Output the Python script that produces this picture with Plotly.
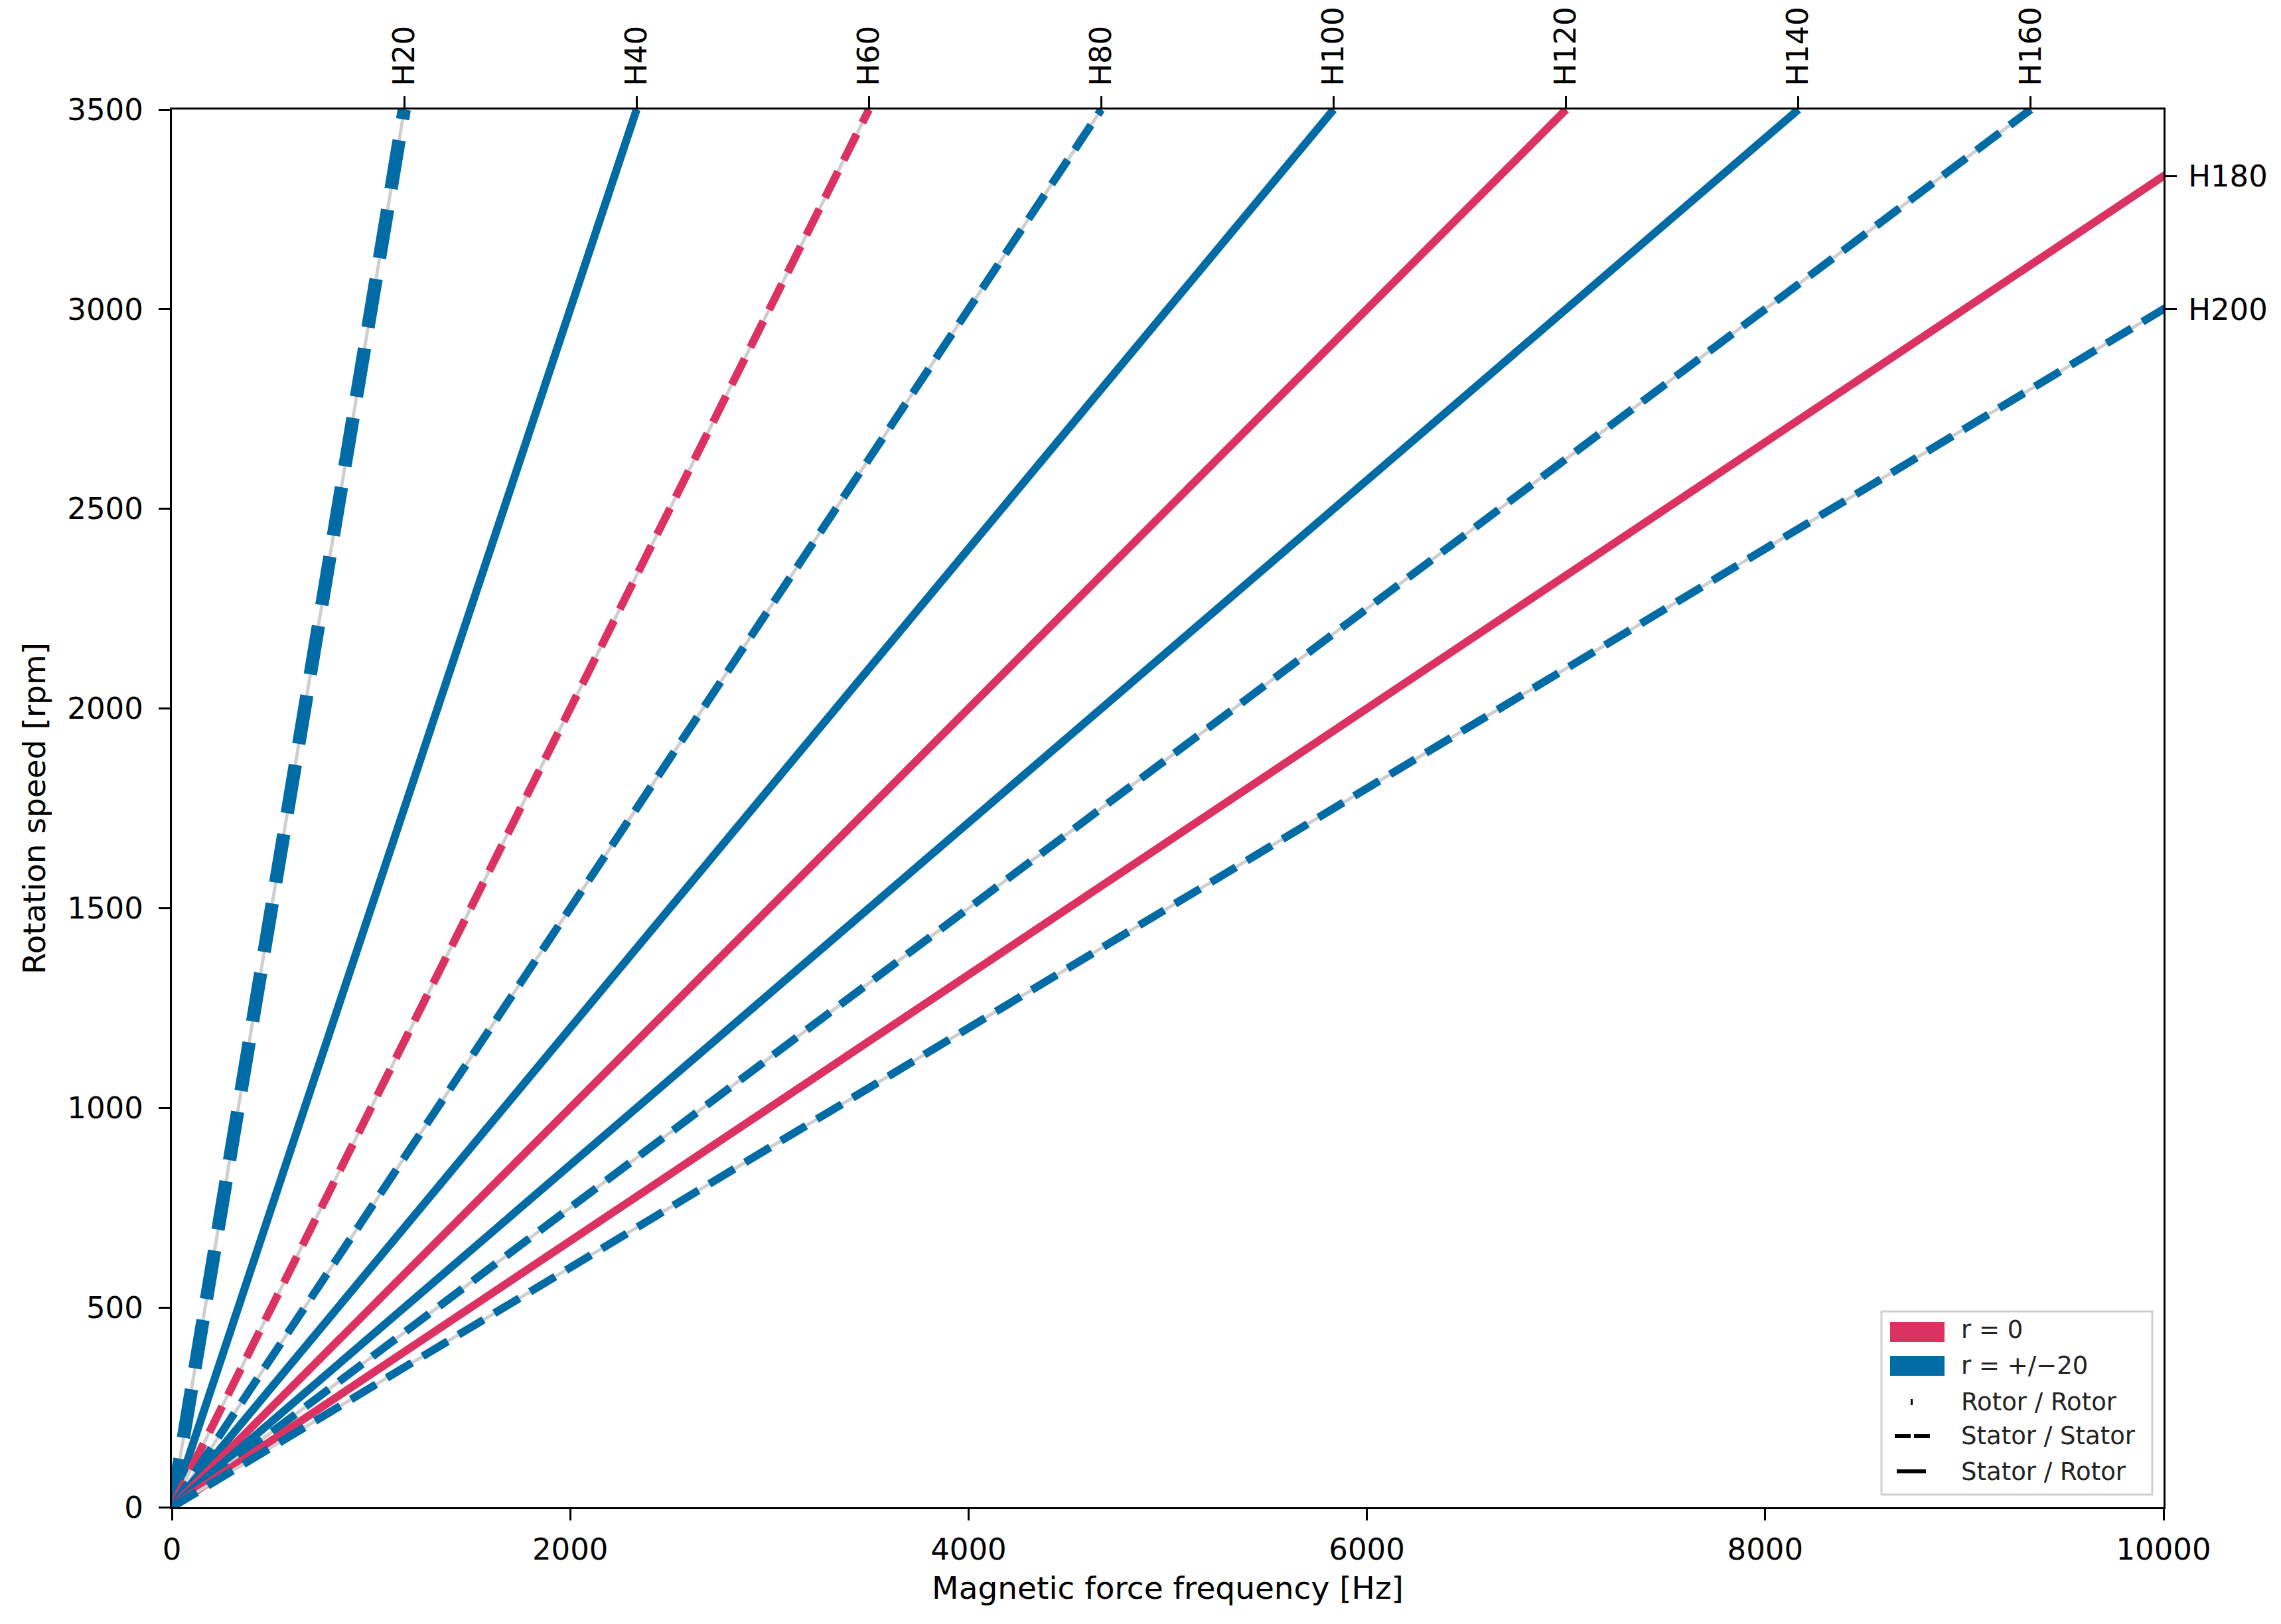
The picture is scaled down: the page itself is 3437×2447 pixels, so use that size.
import plotly.graph_objects as go

# ---------------- data ----------------
harmonics = [20, 40, 60, 80, 100, 120, 140, 160, 180, 200]
families = ["r20", "r20", "r0", "r20", "r20", "r0", "r20", "r20", "r0", "r20"]
sources = ["Stator / Stator", "Stator / Rotor", "Stator / Stator", "Stator / Stator",
           "Stator / Rotor", "Stator / Rotor", "Stator / Rotor", "Stator / Stator",
           "Stator / Rotor", "Stator / Stator"]
speed_range = [0, 3500]          # rpm
freq_range = [0, 10000]          # Hz
x_ticks = [0, 2000, 4000, 6000, 8000, 10000]
y_ticks = [0, 500, 1000, 1500, 2000, 2500, 3000, 3500]
legend_families = ["r = 0", "r = +/\u221220"]
legend_sources = ["Rotor / Rotor", "Stator / Stator", "Stator / Rotor"]

# ---------------- styles ----------------
W, H = 3437, 2447
OFF = 8  # page body margin
L, R, T, B = 259, 3260, 165, 2271
FONT = "DejaVu Sans"
TICK_FS = 45
TITLE_FS = 47
LEG_FS = 37
COLORS = {"r0": "#DC3262", "r20": "#006BA4"}
GRAY = "#CFCFCF"
BASE_W = 12
WIDE = {20: 20}


def dash_for(src, w):
    if src == "Stator / Stator":
        return "%dpx,%dpx" % (round(3.7 * w), round(1.6 * w))
    return "solid"


fig = go.Figure()

for n, fam, src in zip(harmonics, families, sources):
    xs = [n * s / 60 for s in speed_range]
    w = WIDE.get(n, BASE_W)
    fig.add_trace(go.Scatter(x=xs, y=speed_range, mode="lines",
                             line=dict(color=GRAY, width=5),
                             showlegend=False, hoverinfo="skip"))
    fig.add_trace(go.Scatter(x=xs, y=speed_range, mode="lines",
                             line=dict(color=COLORS[fam], width=w, dash=dash_for(src, w)),
                             showlegend=False, name="H%d" % n))

# invisible trace to activate secondary axes
fig.add_trace(go.Scatter(x=freq_range, y=speed_range, xaxis="x2", yaxis="y2",
                         mode="lines", line=dict(width=0), opacity=0,
                         showlegend=False, hoverinfo="skip"))

top_vals = [n * speed_range[1] / 60 for n in harmonics if n * speed_range[1] / 60 <= freq_range[1]]
top_text = ["H%d" % n for n in harmonics if n * speed_range[1] / 60 <= freq_range[1]]
right_vals = [freq_range[1] * 60 / n for n in harmonics if n * speed_range[1] / 60 > freq_range[1]]
right_text = ["H%d" % n for n in harmonics if n * speed_range[1] / 60 > freq_range[1]]

axis_common = dict(showgrid=False, zeroline=False, showline=True, linecolor="black",
                   linewidth=3.3, ticks="outside", ticklen=17, tickwidth=3.3,
                   tickcolor="black", tickfont=dict(family=FONT, size=TICK_FS, color="black"),
                   automargin=False)

fig.update_layout(
    width=W, height=H,
    margin=dict(l=L - OFF, r=W - (R - OFF), t=T - OFF, b=H - (B - OFF), pad=0),
    paper_bgcolor="white", plot_bgcolor="white",
    font=dict(family=FONT, size=TICK_FS, color="black"),
    showlegend=False,
    xaxis=dict(range=freq_range, tickvals=x_ticks, ticktext=[str(v) for v in x_ticks],
               title=dict(text="Magnetic force frequency [Hz]", standoff=16,
                          font=dict(family=FONT, size=TITLE_FS, color="black")),
               ticklabelstandoff=5, **axis_common),
    yaxis=dict(range=speed_range, tickvals=y_ticks, ticktext=[str(v) for v in y_ticks],
               title=dict(text="Rotation speed [rpm]", standoff=18,
                          font=dict(family=FONT, size=TITLE_FS, color="black")),
               ticklabelstandoff=14, **axis_common),
    xaxis2=dict(range=freq_range, overlaying="x", side="top", tickvals=top_vals,
                ticktext=top_text, tickangle=-90, ticklabelstandoff=6, **axis_common),
    yaxis2=dict(range=speed_range, overlaying="y", side="right", tickvals=right_vals,
                ticktext=right_text, ticklabelstandoff=8, **axis_common),
)


# ---------------- legend (drawn manually) ----------------
def px(xp):
    return (xp - L) / (R - L)


def py(yp):
    return (B - yp) / (B - T)


shapes = []
shapes.append(dict(type="rect", xref="paper", yref="paper",
                   x0=px(2835), x1=px(3243), y0=py(1976), y1=py(2252),
                   line=dict(color="#D0D0D0", width=3), fillcolor="rgba(255,255,255,0.85)",
                   layer="above"))
patch_y = [2007, 2058]
for fam, yc in zip(["r0", "r20"], patch_y):
    shapes.append(dict(type="rect", xref="paper", yref="paper",
                       x0=px(2848), x1=px(2930), y0=py(yc - 15), y1=py(yc + 15),
                       line=dict(width=0), fillcolor=COLORS[fam], layer="above"))
# Rotor / Rotor handle: tiny tick
shapes.append(dict(type="rect", xref="paper", yref="paper",
                   x0=px(2879), x1=px(2882), y0=py(2108), y1=py(2117),
                   line=dict(width=0), fillcolor="black", layer="above"))
# Stator / Stator handle: two dashes
for a, b in [(2855, 2879), (2884, 2908)]:
    shapes.append(dict(type="rect", xref="paper", yref="paper",
                       x0=px(a), x1=px(b), y0=py(2161), y1=py(2167),
                       line=dict(width=0), fillcolor="black", layer="above"))
# Stator / Rotor handle: single dash
shapes.append(dict(type="rect", xref="paper", yref="paper",
                   x0=px(2858), x1=px(2902), y0=py(2214), y1=py(2220),
                   line=dict(width=0), fillcolor="black", layer="above"))

annotations = []
text_y = [2004, 2057, 2112, 2163, 2217]
for txt, yc in zip(legend_families + legend_sources, text_y):
    annotations.append(dict(text=txt, xref="paper", yref="paper", x=px(2953), y=py(yc),
                            xanchor="left", yanchor="middle", showarrow=False,
                            font=dict(family=FONT, size=LEG_FS, color="#222222")))

fig.update_layout(shapes=shapes, annotations=annotations)

fig.write_html("out.html")
